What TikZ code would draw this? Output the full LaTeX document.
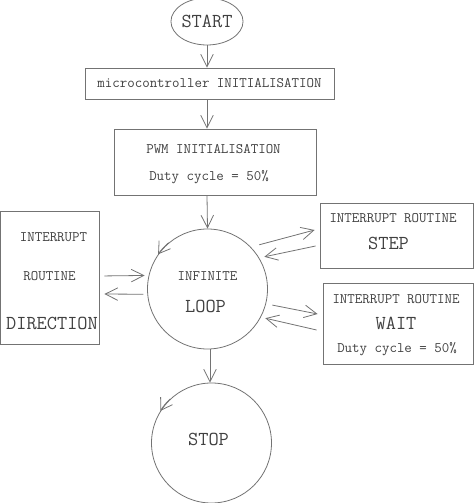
\documentclass[tikz,border=0pt]{standalone}
\usetikzlibrary{arrows.meta,shapes.geometric}

\begin{document}
\begin{tikzpicture}[x=1pt, y=1pt, line width=0.8pt,
  every node/.style = {text=black!75, inner sep=0pt,
    font=\ttfamily\fontsize{14.5}{16}\selectfont},
  big/.style = {font=\ttfamily\fontsize{19.8}{22}\selectfont},
  box/.style = {draw=black!55, rectangle},
  bubble/.style = {draw=black!55, circle, minimum size=120pt},
  arr/.style = {draw=black!55, -{Straight Barb[length=12.5pt,width=12.5pt]}},
  turn/.style = {draw=black!55, -{Straight Barb[length=11pt,width=14pt]}}]
  \useasboundingbox (0,0) rectangle (474,503);

  \node[draw=black!55, ellipse, minimum width=71pt, minimum height=47pt, big]
    (start) at (207,481.5) {START};
  \node[box, minimum width=249pt, minimum height=31pt]
    (micro) at (209.5,419.5) {microcontroller INITIALISATION};
  \node[box, minimum width=202pt, minimum height=66pt] (pwm) at (215,341) {};
  \node[anchor=base] (pwmA) at (213.5,349.6) {PWM INITIALISATION};
  \node[anchor=base] (pwmB) at (209,322.6) {Duty cycle = 50\%};

  \node[bubble] (loop) at (207.5,214) {};
  \node[anchor=base] (loopA) at (207.5,222.6) {INFINITE};
  \node[anchor=base, big] (loopB) at (205.5,190) {LOOP};

  \node[box, minimum width=98.5pt, minimum height=133pt] (dir) at (49.75,225.5) {};
  \node[anchor=base] (dirA) at (53.5,261.6) {INTERRUPT};
  \node[anchor=base] (dirB) at (49.5,222.6) {ROUTINE};
  \node[anchor=base, big] (dirC) at (52,173) {DIRECTION};

  \node[box, minimum width=153.5pt, minimum height=65pt] (step) at (396.75,267.5) {};
  \node[anchor=base] (stepA) at (393,280.6) {INTERRUPT ROUTINE};
  \node[anchor=base, big] (stepB) at (388.5,253) {STEP};

  \node[box, minimum width=150.5pt, minimum height=81pt] (wait) at (398.25,179.5) {};
  \node[anchor=base] (waitA) at (396,199.6) {INTERRUPT ROUTINE};
  \node[anchor=base, big] (waitB) at (396,173) {WAIT};
  \node[anchor=base] (waitC) at (397,150.6) {Duty cycle = 50\%};

  \node[bubble] (stop) at (211.5,60) {};
  \node[anchor=base, big] (stopA) at (208.5,57) {STOP};

  \draw[arr] (start) -- (start |- micro.north);
  \draw[arr] (micro.south -| start) -- (pwm.north -| start);
  \draw[arr] (pwm.south -| start) -- (loop.north);
  \draw[arr] ([xshift=2.5pt]loop.south) -- ([xshift=-1.5pt]stop.north);

  \draw[arr, shorten <=5pt, shorten >=4pt] ([yshift=1.5pt]dir.east) -- (loop.167);
  \draw[arr, shorten <=4pt, shorten >=5pt] (loop.185) -- ([yshift=-16.5pt]dir.east);
  \draw[arr] ([shift={(5.5,5.4)}]loop.40) -- ([shift={(-5,5.5)}]step.west);
  \draw[arr] ([shift={(-4,-10.5)}]step.west) -- ([shift={(4.5,2)}]loop.30);
  \draw[arr] ([shift={(6.3,-1.5)}]loop.346) -- ([shift={(-5,9.5)}]wait.west);
  \draw[arr] ([shift={(-6,-6.5)}]wait.west) -- ([shift={(4,-1.8)}]loop.333);

  \draw[turn] (loop.130) arc[start angle=130, end angle=145, radius=60pt];
  \draw[turn] (stop.133) arc[start angle=133, end angle=148, radius=60pt];
\end{tikzpicture}
\end{document}
